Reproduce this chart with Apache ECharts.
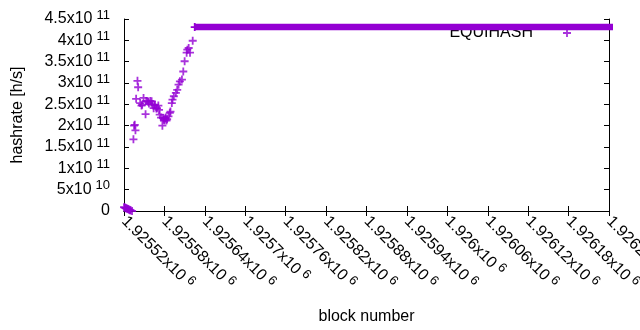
<!DOCTYPE html>
<html>
<head>
<meta charset="utf-8">
<script src="https://cdn.jsdelivr.net/npm/echarts@6/dist/echarts.min.js"></script>
<style>
html,body{margin:0;padding:0;background:#fff;}
#chart{width:640px;height:330px;}
</style>
</head>
<body>
<div id="chart"></div>
<script>
// ---- data ----
var seriesName = 'EQUIHASH';
var xAxisTitle = 'block number';
var yAxisTitle = 'hashrate [h/s]';

// scattered points: block number and hashrate
var blocks = [
  1925520, 1925521, 1925522, 1925523, 1925524, 1925525, 1925526, 1925527, 1925528, 1925529, 1925530, 1925532,
  1925534, 1925535, 1925536, 1925537, 1925538, 1925540, 1925541, 1925544, 1925546, 1925547, 1925549, 1925552,
  1925553, 1925555, 1925556, 1925557, 1925559, 1925561, 1925562, 1925564, 1925565, 1925566, 1925568, 1925569,
  1925571, 1925572, 1925573, 1925575, 1925577, 1925578, 1925579, 1925580, 1925581, 1925582, 1925583, 1925584,
  1925586, 1925588, 1925589, 1925591, 1925592, 1925594, 1925597, 1925599, 1925601, 1925603, 1925606, 1925608,
  1925610, 1925613, 1925614, 1925616, 1925618, 1925622
];
var hashrates = [
  9.0e9, 8.0e9, 7.5e9, 6.5e9, 6.0e9, 5.0e9, 4.5e9, 3.5e9, 3.0e9, 2.0e9, 1.5e9, 0.0,
  1.68e11, 2.00e11, 2.02e11, 1.89e11, 2.63e11, 3.05e11, 2.90e11, 2.53e11, 2.47e11, 2.49e11, 2.65e11, 2.27e11,
  2.58e11, 2.57e11, 2.56e11, 2.52e11, 2.58e11, 2.57e11, 2.50e11, 2.41e11, 2.47e11, 2.49e11, 2.40e11, 2.41e11,
  2.47e11, 2.37e11, 2.26e11, 2.19e11, 2.00e11, 2.18e11, 2.14e11, 2.12e11, 2.17e11, 2.19e11, 2.12e11, 2.15e11,
  2.22e11, 2.30e11, 2.33e11, 2.53e11, 2.61e11, 2.69e11, 2.77e11, 2.84e11, 2.96e11, 3.04e11, 3.08e11, 3.27e11,
  3.51e11, 3.71e11, 3.78e11, 3.82e11, 3.71e11, 3.99e11
];

// flat run of points at the same hashrate (first and last block of the run)
var flatBlocks = [1925625, 1926250];
var flatHashrates = [4.31e11, 4.31e11];

// axes
var xMin = 1925520, xMax = 1926240, xStep = 60;
var yMin = 0, yMax = 4.5e11, yStep = 5e10;

// ---- chart ----
var PURPLE = '#9400d3';
var FONT = 'Liberation Sans';
var FS = 16;
var PLUS = 'path://M0,3.1H3.1V0H4.9V3.1H8V4.9H4.9V8H3.1V4.9H0Z';

function sciParts(v) {
  if (v === 0) return null;
  var e = Math.floor(Math.log10(Math.abs(v)) + 1e-9);
  var m = Number((v / Math.pow(10, e)).toFixed(5));
  return [String(m), String(e)];
}

var scatterData = blocks.map(function (b, i) { return [b, hashrates[i]]; });
var flatData = flatBlocks.map(function (b, i) { return [b, flatHashrates[i]]; });

var chart = echarts.init(document.getElementById('chart'), null, {renderer: 'canvas'});

var axisCommon = {
  axisLine: {show: true, lineStyle: {color: '#000', width: 1}},
  axisTick: {show: true, inside: true, length: 5, lineStyle: {color: '#000', width: 1}},
  splitLine: {show: false}
};

chart.setOption({
  animation: false,
  backgroundColor: '#fff',
  textStyle: {fontFamily: FONT},
  grid: {left: 124, right: 31, top: 19, bottom: 119, containLabel: false, outerBoundsMode: 'none'},
  legend: {
    data: [{name: seriesName, icon: PLUS}],
    align: 'right',
    right: 64,
    top: 20,
    itemWidth: 58,
    itemHeight: 8,
    z: 1,
    selectedMode: false,
    textStyle: {fontFamily: FONT, fontSize: FS, color: '#000'}
  },
  xAxis: [
    Object.assign({}, axisCommon, {
      type: 'value', position: 'bottom', min: xMin, max: xMax, interval: xStep,
      name: xAxisTitle, nameLocation: 'middle', nameGap: 98,
      nameTextStyle: {fontFamily: FONT, fontSize: FS, color: '#000'},
      axisLabel: {
        show: true, rotate: -45, margin: 8, hideOverlap: false,
        fontFamily: FONT, fontSize: FS, color: '#000',
        formatter: function (v) {
          var p = sciParts(v);
          return '{m|' + p[0] + 'x10}{e|' + p[1] + '}';
        },
        rich: {
          m: {fontFamily: FONT, fontSize: FS, color: '#000'},
          e: {fontFamily: FONT, fontSize: 13, color: '#000', padding: [0, 0, 8, 4]}
        }
      }
    }),
    Object.assign({}, axisCommon, {
      type: 'value', position: 'top', min: xMin, max: xMax, interval: xStep,
      axisLabel: {show: false}
    })
  ],
  yAxis: [
    Object.assign({}, axisCommon, {
      type: 'value', position: 'left', min: yMin, max: yMax, interval: yStep,
      name: yAxisTitle, nameLocation: 'middle', nameGap: 98,
      nameTextStyle: {fontFamily: FONT, fontSize: FS, color: '#000'},
      axisLabel: {
        show: true, margin: 14,
        fontFamily: FONT, fontSize: FS, color: '#000',
        formatter: function (v) {
          var p = sciParts(v);
          if (!p) return '{z|0}';
          return '{m|' + p[0] + 'x10}{e|' + p[1] + '}';
        },
        rich: {
          z: {fontFamily: FONT, fontSize: FS, color: '#000'},
          m: {fontFamily: FONT, fontSize: FS, color: '#000'},
          e: {fontFamily: FONT, fontSize: 13, color: '#000', padding: [0, 0, 8, 4]}
        }
      }
    }),
    Object.assign({}, axisCommon, {
      type: 'value', position: 'right', min: yMin, max: yMax, interval: yStep,
      axisLabel: {show: false}
    })
  ],
  series: [
    {
      name: seriesName, type: 'scatter', data: scatterData,
      symbol: PLUS, symbolSize: 8, itemStyle: {color: PURPLE}, z: 3, clip: false
    },
    {
      name: 'flat', type: 'line', data: flatData,
      symbol: PLUS, symbolSize: 8, showSymbol: true, itemStyle: {color: PURPLE},
      lineStyle: {color: PURPLE, width: 6.5, cap: 'butt'}, z: 3, clip: true
    }
  ]
});
</script>
</body>
</html>
